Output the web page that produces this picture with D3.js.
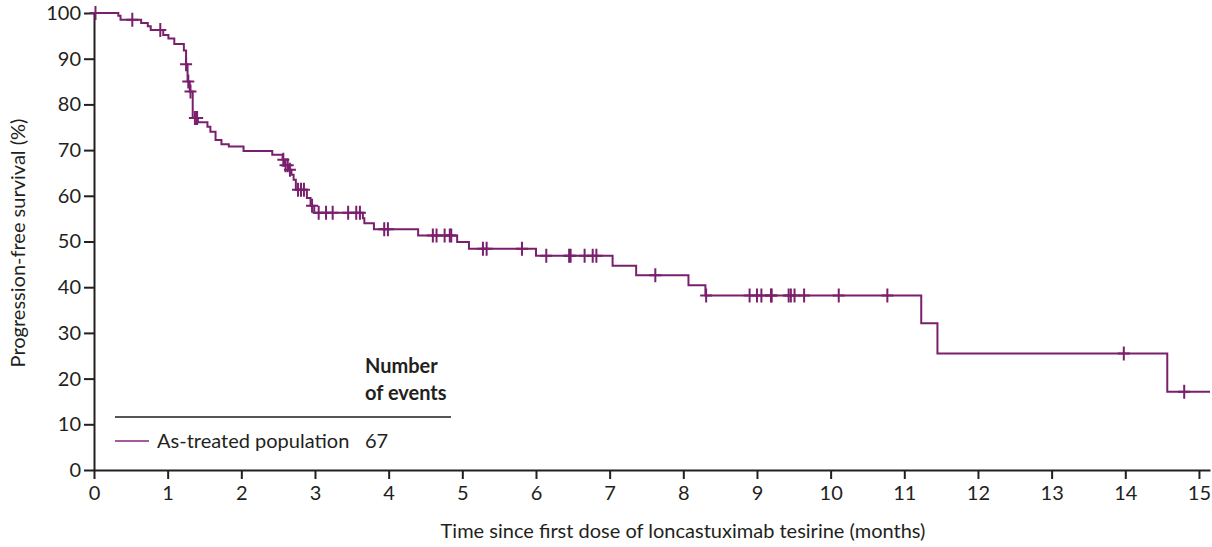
<!DOCTYPE html>
<html>
<head>
<meta charset="utf-8">
<script src="https://cdn.jsdelivr.net/npm/d3@7"></script>
<style>
  body { margin: 0; background: #fff; }
  text { font-family: Lato, "Open Sans", sans-serif; fill: #231f20; }
</style>
</head>
<body>
<div id="canvas"></div>
<script>
"use strict"

/* canvas size */
let svgWidth = 1212;
let svgHeight = 547;

/* Kaplan-Meier steps: time (months) and survival (%) after each step */
let stepTimes = [0, 0.33, 0.36, 0.64, 0.73, 0.77, 0.94, 1.01, 1.09, 1.22, 1.25, 1.27, 1.30, 1.34, 1.41,
    1.54, 1.58, 1.65, 1.73, 1.83, 2.03, 2.42, 2.56, 2.59, 2.64, 2.68, 2.71, 2.74, 2.89, 2.94, 2.99,
    3.65, 3.67, 3.80, 4.40, 4.93, 5.09, 6.00, 7.04, 7.36, 8.07, 8.30, 11.23, 11.45, 14.57];
let stepSurvival = [100, 99.4, 98.5, 97.8, 97.1, 96.3, 95.2, 94.4, 93.2, 91.8, 88.8, 85.0, 82.8, 77.0, 76.1,
    75.1, 74.0, 72.2, 71.3, 70.8, 69.8, 69.0, 67.9, 66.7, 65.7, 64.6, 63.5, 61.3, 59.5, 57.8, 56.3,
    55.1, 54.0, 52.7, 51.3, 49.9, 48.4, 46.9, 44.7, 42.6, 40.4, 38.2, 32.1, 25.5, 17.1];
let lastTime = 15.15;

/* censored patients (months) */
let censorTimes = [0.02, 0.52, 0.90, 1.25, 1.28, 1.31, 1.37, 1.39, 1.40, 2.57, 2.60, 2.63, 2.66,
    2.77, 2.81, 2.85, 2.96, 3.05, 3.15, 3.24, 3.45, 3.56, 3.61, 3.94, 3.99, 4.60, 4.65, 4.76, 4.83,
    4.85, 5.28, 5.33, 5.81, 6.14, 6.45, 6.47, 6.66, 6.77, 6.82, 7.62, 8.31, 8.90, 9.00, 9.06, 9.19,
    9.20, 9.43, 9.46, 9.51, 9.64, 10.11, 10.77, 13.98, 14.80];

/* tick labels */
let xTickValues = [0, 1, 2, 3, 4, 5, 6, 7, 8, 9, 10, 11, 12, 13, 14, 15];
let yTickValues = [0, 10, 20, 30, 40, 50, 60, 70, 80, 90, 100];

let seriesName = "As-treated population";
let seriesEvents = "67";

let curveColor = "#7a1f6c";
let axisColor = "#231f20";

let svg = d3.select("#canvas")
    .append("svg")
    .attr("width", svgWidth)
    .attr("height", svgHeight);

let xScale = d3.scaleLinear()
    .domain([0, lastTime])
    .range([94, 1210]);

let yScale = d3.scaleLinear()
    .domain([0, 100])
    .range([470, 13]);

/* axes */
let xAxis = svg.append("g")
    .attr("transform", "translate(0," + yScale(0) + ")")
    .call(d3.axisBottom(xScale).tickValues(xTickValues).tickSize(9).tickSizeOuter(0).tickPadding(7));

let yAxis = svg.append("g")
    .attr("transform", "translate(" + xScale(0) + ",0)")
    .call(d3.axisLeft(yScale).tickValues(yTickValues).tickSize(10).tickSizeOuter(0).tickPadding(3));

svg.selectAll(".domain, .tick line")
    .attr("stroke", axisColor)
    .attr("stroke-width", 2);
svg.selectAll(".tick text")
    .style("font-size", "20px")
    .attr("fill", axisColor);

/* axis titles */
svg.append("text")
    .attr("x", 683)
    .attr("y", 538)
    .style("text-anchor", "middle")
    .style("font-size", "20px")
    .text("Time since first dose of loncastuximab tesirine (months)");

svg.append("text")
    .attr("transform", "translate(25,243) rotate(-90)")
    .style("text-anchor", "middle")
    .style("font-size", "20px")
    .text("Progression-free survival (%)");

/* survival curve */
let curvePoints = stepTimes.map(function (t, i) {
    return [t, stepSurvival[i]];
});
curvePoints.push([lastTime, stepSurvival[stepSurvival.length - 1]]);

let line = d3.line()
    .x(function (d) { return xScale(d[0]); })
    .y(function (d) { return yScale(d[1]); })
    .curve(d3.curveStepAfter);

svg.append("path")
    .datum(curvePoints)
    .attr("d", line)
    .attr("fill", "none")
    .attr("stroke", curveColor)
    .attr("stroke-width", 2);

/* survival value at a given time, for placing censor marks */
function survivalAt(t) {
    let s = stepSurvival[0];
    for (let i = 0; i < stepTimes.length; i++) {
        if (stepTimes[i] <= t) s = stepSurvival[i];
    }
    return s;
}

let censors = svg.selectAll(".censor")
    .data(censorTimes)
    .join("path")
    .attr("class", "censor")
    .attr("d", function (t) {
        let cx = xScale(t);
        let cy = yScale(survivalAt(t));
        return "M" + cx + "," + (cy - 7) + "V" + (cy + 7) + "M" + (cx - 6) + "," + cy + "H" + (cx + 6);
    })
    .attr("stroke", curveColor)
    .attr("stroke-width", 2)
    .attr("fill", "none");

/* legend */
svg.append("text")
    .attr("x", 365)
    .attr("y", 373)
    .style("font-size", "20px")
    .style("font-weight", "bold")
    .text("Number");

svg.append("text")
    .attr("x", 365)
    .attr("y", 400)
    .style("font-size", "20px")
    .style("font-weight", "bold")
    .text("of events");

svg.append("line")
    .attr("x1", 115)
    .attr("x2", 451)
    .attr("y1", 417)
    .attr("y2", 417)
    .attr("stroke", "#555")
    .attr("stroke-width", 2);

svg.append("line")
    .attr("x1", 115)
    .attr("x2", 149)
    .attr("y1", 441)
    .attr("y2", 441)
    .attr("stroke", "#a65a9c")
    .attr("stroke-width", 2);

svg.append("text")
    .attr("x", 157)
    .attr("y", 448)
    .style("font-size", "20px")
    .text(seriesName);

svg.append("text")
    .attr("x", 365)
    .attr("y", 448)
    .style("font-size", "20px")
    .text(seriesEvents);
</script>
</body>
</html>
